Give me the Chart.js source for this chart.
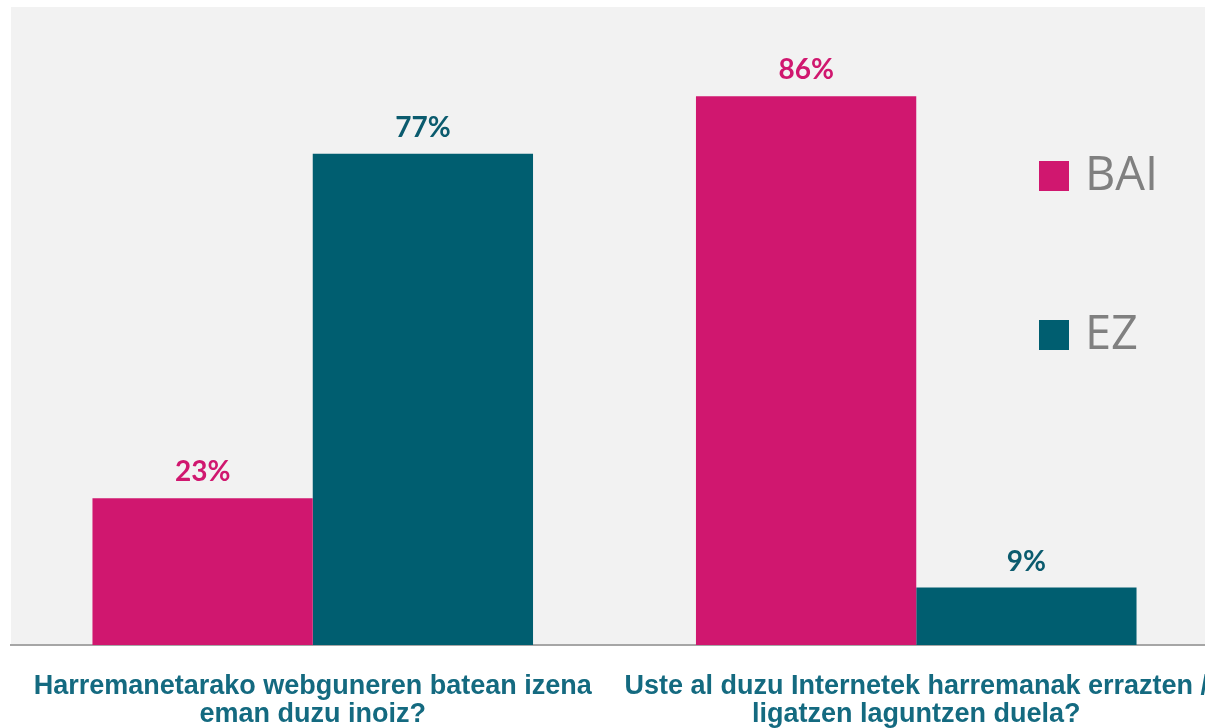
<!DOCTYPE html>
<html>
<head>
<meta charset="utf-8">
<script src="https://cdn.jsdelivr.net/npm/chart.js@4/dist/chart.umd.min.js"></script>
<style>
	html, body { margin: 0; padding: 0; background: #ffffff; overflow: hidden; }
	#chart { display: block; }
</style>
</head>
<body>
<canvas id="chart" width="1218" height="728"></canvas>
<script>
var questions = [
	['Harremanetarako webguneren batean izena', 'eman duzu inoiz?'],
	['Uste al duzu Internetek harremanak errazten /', 'ligatzen laguntzen duela?']
];
var seriesNames = ['BAI', 'EZ'];
var baiValues = [23, 86];
var ezValues = [77, 9];
var seriesColors = ['#d0176f', '#005e70'];

// grey plot background
var plotBackground = {
	'id': 'plotBackground',
	'beforeDraw': function (chart) {
		var a = chart.chartArea;
		var ctx = chart.ctx;
		ctx.save();
		ctx.fillStyle = '#f2f2f2';
		ctx.fillRect(a.left, a.top, a.right - a.left, a.bottom - a.top);
		ctx.restore();
	}
};

// percent labels above the bars
var valueLabels = {
	'id': 'valueLabels',
	'afterDatasetsDraw': function (chart) {
		var ctx = chart.ctx;
		ctx.save();
		ctx.font = 'bold 28px Lato';
		ctx.textAlign = 'center';
		ctx.textBaseline = 'alphabetic';
		chart.data.datasets.forEach(function (ds, i) {
			var meta = chart.getDatasetMeta(i);
			ctx.fillStyle = ds['labelColor'];
			meta.data.forEach(function (bar, j) {
				ctx.fillText(ds.data[j] + '%', bar.x, bar.y - 17);
			});
		});
		ctx.restore();
	}
};

// legend sitting inside the plot, on the right
var sideLegend = {
	'id': 'sideLegend',
	'afterDraw': function (chart) {
		var ctx = chart.ctx;
		var rows = [176, 335];
		ctx.save();
		ctx.font = '47px "Open Sans"';
		ctx.textBaseline = 'middle';
		ctx.textAlign = 'left';
		chart.data.datasets.forEach(function (ds, i) {
			var cy = rows[i];
			ctx.fillStyle = ds.backgroundColor;
			ctx.fillRect(1039, cy - 15, 30, 30);
			ctx.fillStyle = '#808080';
			ctx.fillText(ds.label, 1085, cy + 1);
		});
		ctx.restore();
	}
};

var data = {
	'labels': questions,
	'datasets': [
		{
			'label': seriesNames[0],
			'data': baiValues,
			'backgroundColor': seriesColors[0],
			'labelColor': '#d0176f'
		},
		{
			'label': seriesNames[1],
			'data': ezValues,
			'backgroundColor': seriesColors[1],
			'labelColor': '#0b5b6e'
		}
	]
};

var options = {
	'responsive': false,
	'animation': false,
	'layout': { 'padding': { 'left': 11, 'top': 7, 'right': 0, 'bottom': 0 } },
	'plugins': {
		'legend': { 'display': false },
		'tooltip': { 'enabled': false }
	},
	'datasets': {
		'bar': { 'barPercentage': 1, 'categoryPercentage': 0.73 }
	},
	'scales': {
		'x': {
			'grid': { 'display': false, 'drawTicks': false },
			'border': { 'display': true, 'color': '#a6a6a6', 'width': 2 },
			'ticks': {
				'color': '#146a80',
				'padding': 27,
				'maxRotation': 0,
				'autoSkip': false,
				'font': { 'family': '"Liberation Sans", Arial', 'weight': 'bold', 'size': 27, 'lineHeight': 1.05 }
			},
			'afterFit': function (scale) {
				// fixed axis height, and let the long last label run off the edge
				scale.height = 83;
				scale.paddingLeft = 0;
				scale.paddingRight = 0;
			}
		},
		'y': {
			'display': false,
			'min': 0,
			'max': 100
		}
	}
};

var config = {
	'type': 'bar',
	'data': data,
	'options': options,
	'plugins': [plotBackground, valueLabels, sideLegend]
};

var barChart = new Chart(document.getElementById('chart'), config);
</script>
</body>
</html>
